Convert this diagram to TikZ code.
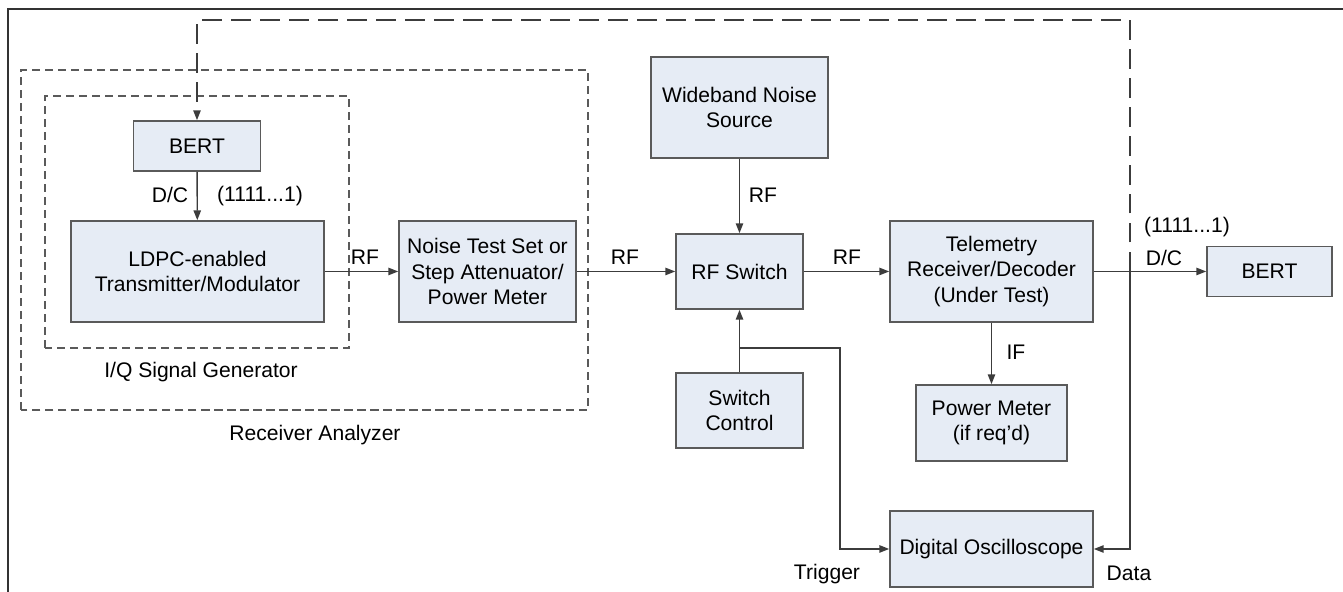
\documentclass[tikz,border=0pt]{standalone}
\usepackage{fontspec}
\setmainfont{Liberation Sans}
\usetikzlibrary{arrows.meta}
\definecolor{boxfill}{RGB}{230,236,245}
\definecolor{boxline}{RGB}{90,90,90}
\definecolor{wire}{RGB}{60,60,60}
\begin{document}
\begin{tikzpicture}[
  font=\fontsize{12}{14.4}\selectfont,
  block/.style={draw=boxline, fill=boxfill, line width=0.9pt, align=center,
    inner sep=0pt},
  sig/.style={draw=wire, line width=0.8pt, -{Triangle[length=5.6pt,width=4.2pt]}},
  group/.style={draw=boxline, line width=0.9pt, dash pattern=on 4.6pt off 2.8pt},
  feed/.style={draw=wire, line width=0.8pt, dash pattern=on 11pt off 5.5pt}
  ]
  \useasboundingbox (0,0) rectangle (26.86,11.84);

  % Frame (top and left side only)
  \draw[line width=1.2pt, black!80] (0.16,0) -- (0.16,11.66) -- (26.86,11.66);

  % Dashed groups
  \draw[group] (0.42,3.64) rectangle (11.76,10.44); % Receiver Analyzer
  \draw[group] (0.90,4.88) rectangle (6.98,9.92);   % I/Q Signal Generator
  \node (lblrx) at (6.30,3.14) {Receiver Analyzer};
  \node (lbliq) at (4.02,4.40) {I/Q Signal Generator};

  % Blocks
  \node[block, minimum width=2.54cm, minimum height=1.0cm]  (bertl) at (3.94,8.92) {BERT};
  \node[block, minimum width=5.06cm, minimum height=2.02cm] (ldpc)  at (3.95,6.41) {LDPC-enabled\\Transmitter/Modulator};
  \node[block, minimum width=3.54cm, minimum height=2.02cm] (nts)   at (9.75,6.41) {Noise Test Set or\\Step Attenuator/\\Power Meter};
  \node[block, minimum width=3.54cm, minimum height=2.02cm] (wns)   at (14.79,9.69) {Wideband Noise\\Source};
  \node[block, minimum width=2.54cm, minimum height=1.5cm]  (rfsw)  at (14.79,6.41) {RF Switch};
  \node[block, minimum width=2.54cm, minimum height=1.5cm]  (swc)   at (14.79,3.63) {Switch\\Control};
  \node[block, minimum width=4.06cm, minimum height=2.02cm] (tel)   at (19.83,6.41) {Telemetry\\Receiver/Decoder\\(Under Test)};
  \node[block, minimum width=3.02cm, minimum height=1.52cm] (pm)    at (19.83,3.38) {Power Meter\\(if req'd)};
  \node[block, minimum width=4.06cm, minimum height=1.52cm] (osc)   at (19.83,0.86) {Digital Oscilloscope};
  \node[block, minimum width=2.5cm,  minimum height=1.0cm]  (bertr) at (25.39,6.41) {BERT};

  % Helper points
  \coordinate (tap)  at (22.60,6.41);  % data tap on D/C line
  \coordinate (top)  at (22.60,11.44);
  \coordinate (topl) at (3.94,11.44);
  \coordinate (spl)  at (14.79,4.88);  % split of switch control
  \coordinate (trg)  at (16.80,4.88);

  % Signal path
  \draw[sig] (bertl) -- (ldpc);
  \draw[sig] (ldpc) -- (nts);
  \draw[sig] (nts) -- (rfsw);
  \draw[sig] (wns) -- (rfsw);
  \draw[sig] (rfsw) -- (tel);
  \draw[sig] (tel) -- (bertr);
  \draw[sig] (tel) -- (pm);
  \draw[sig] (swc) -- (rfsw);

  % Trigger and data
  \draw[sig] (spl) -- (trg) |- (osc.west);
  \draw[sig] (tap) |- (osc.east);
  \draw[feed, -{Triangle[length=5.6pt,width=4.2pt]}] (tap) -- (top) -- (topl) -- (bertl.north);

  % Labels
  \node (dcl)  at (3.40,7.94) {D/C};
  \node (patl) at (5.20,7.92) {(1111...1)};
  \node (rf1)  at (7.30,6.70) {RF};
  \node (rf2)  at (12.50,6.70) {RF};
  \node (rf3)  at (15.26,7.94) {RF};
  \node (rf4)  at (16.94,6.70) {RF};
  \node (patr) at (23.74,7.30) {(1111...1)};
  \node (dcr)  at (23.28,6.68) {D/C};
  \node (ifl)  at (20.32,4.80) {IF};
  \node (trgl) at (16.54,0.36) {Trigger};
  \node (datl) at (22.58,0.38) {Data};
\end{tikzpicture}
\end{document}
